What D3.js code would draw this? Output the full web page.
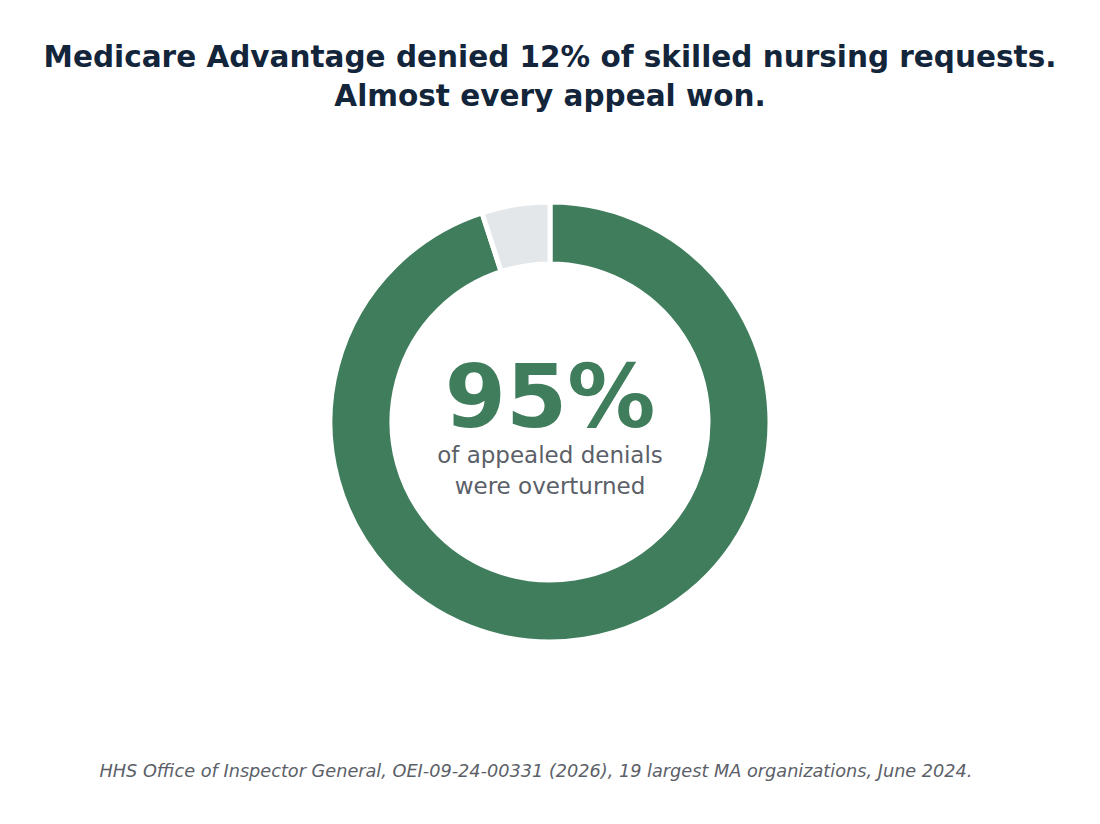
<!DOCTYPE html>
<html>
<head>
<meta charset="utf-8">
<script src="https://cdn.jsdelivr.net/npm/d3@7"></script>
<style>
  body { margin: 0; background: #fff; }
  svg text { font-family: "DejaVu Sans", sans-serif; }
</style>
</head>
<body>
<svg id="chart" width="1100" height="824"></svg>
<script>
// data
var categories = ["Overturned", "Upheld"];
var shares = [95, 5];
var colors = ["#3f7d5c", "#e4e7ea"];

var titleLines = ["Medicare Advantage denied 12% of skilled nursing requests.", "Almost every appeal won."];
var bigLabel = "95%";
var subLines = ["of appealed denials", "were overturned"];
var source = "HHS Office of Inspector General, OEI-09-24-00331 (2026), 19 largest MA organizations, June 2024.";

var svg = d3.select("#chart");
var cx = 550, cy = 422;

// title
svg.selectAll("text.title")
    .data(titleLines)
    .enter().append("text")
    .attr("class", "title")
    .attr("x", 550)
    .attr("y", function(d, i){ return 67 + i * 39; })
    .attr("text-anchor", "middle")
    .attr("font-size", 29.5)
    .attr("font-weight", "bold")
    .attr("fill", "#13253a")
    .text(function(d){ return d; });

// donut
var pie = d3.pie().sort(null).value(function(d){ return d; });
var arc = d3.arc().innerRadius(158).outerRadius(220);

var g = svg.append("g").attr("transform", "translate(" + cx + "," + cy + ")");
g.selectAll("path")
    .data(pie(shares))
    .enter().append("path")
    .attr("d", arc)
    .attr("fill", function(d, i){ return colors[i]; })
    .attr("stroke", "#fff")
    .attr("stroke-width", 5);

// centre text
g.append("text")
    .attr("y", 5)
    .attr("text-anchor", "middle")
    .attr("font-size", 88)
    .attr("font-weight", "bold")
    .attr("fill", "#3f7d5c")
    .text(bigLabel);

g.selectAll("text.sub")
    .data(subLines)
    .enter().append("text")
    .attr("class", "sub")
    .attr("y", function(d, i){ return 41 + i * 31; })
    .attr("text-anchor", "middle")
    .attr("font-size", 23)
    .attr("fill", "#5b6068")
    .text(function(d){ return d; });

// source
svg.append("text")
    .attr("x", 536)
    .attr("y", 777)
    .attr("text-anchor", "middle")
    .attr("font-size", 17.7)
    .attr("font-style", "italic")
    .attr("fill", "#5b6068")
    .text(source);
</script>
</body>
</html>
